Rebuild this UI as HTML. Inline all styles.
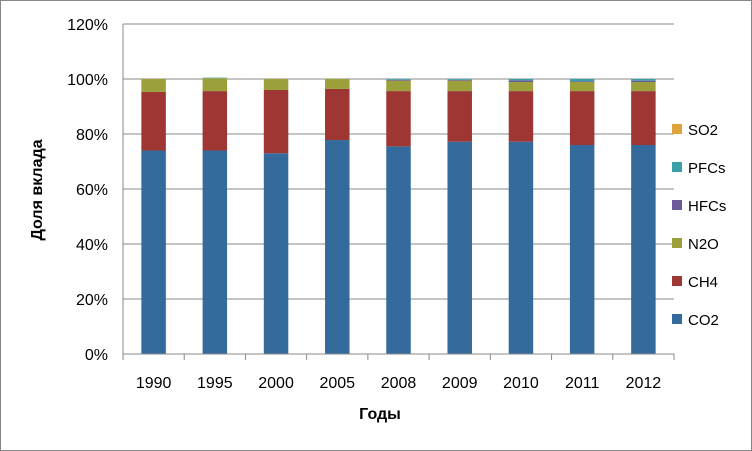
<!DOCTYPE html>
<html><head><meta charset="utf-8"><style>
body{margin:0;background:#fff}
svg{display:block;font-family:"Liberation Sans",Arial,sans-serif}
</style></head><body>
<svg id="c" width="752" height="451">
<rect x="0.5" y="0.5" width="751" height="450" fill="#fff" stroke="#888"/>
<g id="grid"></g><g id="bars"></g><g id="axes"></g><g id="legend"></g>
<text x="42" y="190" transform="rotate(-90 42 190)" text-anchor="middle" font-weight="bold" font-size="16">Доля вклада</text>
<text x="380" y="419" text-anchor="middle" font-weight="bold" font-size="16">Годы</text>
</svg>
<script>
const categories=["1990","1995","2000","2005","2008","2009","2010","2011","2012"];
const co2=[74,74,73,77.8,75.5,77.2,77.2,76,76];
const ch4=[21.3,21.6,23,18.6,20.1,18.4,18.4,19.6,19.6];
const n2o=[4.7,4.7,4,3.6,3.8,3.8,3.3,3.3,3.3];
const hfcs=[0,0,0,0,0.3,0.3,0.6,0.3,0.5];
const pfcs=[0,0.2,0,0,0.3,0.3,0.5,0.8,0.6];
const so2=[0,0,0,0,0,0,0,0,0];
const yTicks=[0,20,40,60,80,100,120];
const seriesNames=["CO2","CH4","N2O","HFCs","PFCs","SO2"];
const seriesData=[co2,ch4,n2o,hfcs,pfcs,so2];
const colors=["#356A9C","#9E3634","#9BA03A","#6C5A99","#3AA0A8","#E0A23A"];
const NS="http://www.w3.org/2000/svg";
const x0=123,x1=674,y0=354,yTop=24;
const bw=(x1-x0)/categories.length;
const y=v=>y0-(v/120)*(y0-yTop);
const xc=i=>x0+bw*(i+0.5);
function mk(p,t,a){const e=document.createElementNS(NS,t);for(const k in a)e.setAttribute(k,a[k]);p.appendChild(e);return e;}
const grid=document.getElementById('grid'),axes=document.getElementById('axes'),bars=document.getElementById('bars'),leg=document.getElementById('legend');
yTicks.forEach(t=>{
 if(t>0){const l=mk(grid,'line',{x1:x0,x2:x1,y1:y(t),y2:y(t),stroke:'#888','stroke-width':1});
 
 }
 const tx=mk(axes,'text',{x:108,y:y(t)+6,'text-anchor':'end','font-size':16});
 tx.textContent=t+'%';
 
 
});
const ya=mk(axes,'line',{x1:x0,x2:x0,y1:yTop,y2:y0,stroke:'#888'});


const xa=mk(axes,'line',{x1:x0,x2:x1,y1:y0,y2:y0,stroke:'#888'});


categories.forEach((c,i)=>{
 for(let k=0;k<=categories.length;k++){}
 const tk=mk(axes,'line',{x1:x0+bw*(i+1),x2:x0+bw*(i+1),y1:y0,y2:y0+6,stroke:'#888'});
 
 
 const tx=mk(axes,'text',{x:xc(i),y:388,'text-anchor':'middle','font-size':16});
 tx.textContent=c;
 
 
 let acc=0;const w=bw*0.4;
 seriesData.forEach((s,j)=>{
  const v=s[i];if(v<=0){return;}
  const r=mk(bars,'rect',{x:xc(i)-w/2,y:y(acc+v),width:w,height:y(acc)-y(acc+v),fill:colors[j]});
  
  
  acc+=v;
 });
});
const t0=mk(axes,'line',{x1:x0,x2:x0,y1:y0,y2:y0+6,stroke:'#888'});


seriesNames.forEach((n,j)=>{
 const ly=320-(j)*38;
 const g=mk(leg,'g',{});
 
 
 mk(g,'rect',{x:672,y:ly-6,width:10,height:10,fill:colors[j]});
 const t=mk(g,'text',{x:688,y:ly+5,'font-size':15});
 t.textContent=n;
});
</script>
</body></html>
